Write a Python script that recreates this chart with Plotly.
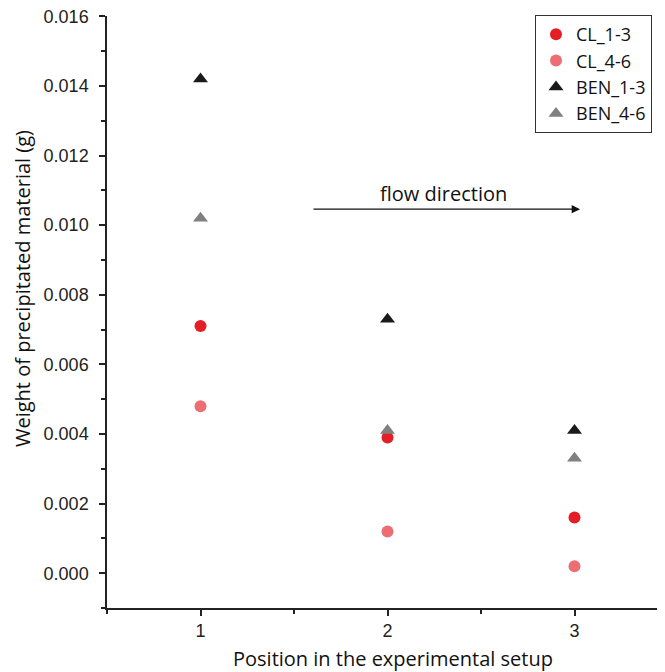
import plotly.graph_objects as go

positions = [1, 2, 3]
cl_1_3 = [0.0071, 0.0039, 0.0016]
cl_4_6 = [0.0048, 0.0012, 0.0002]
ben_1_3 = [0.0142, 0.0073, 0.0041]
ben_4_6 = [0.0102, 0.0041, 0.0033]

series = [
    ("CL_1-3", cl_1_3, "circle", "#e31e24", 12),
    ("CL_4-6", cl_4_6, "circle", "#ec6e73", 12),
    ("BEN_1-3", ben_1_3, "triangle-up", "#1a1a1a", 13),
    ("BEN_4-6", ben_4_6, "triangle-up", "#808080", 13),
]

# page body adds an 8px offset; compensate so plot area lands where reference has it
OFF = 8
W, H = 665 - OFF, 672 - OFF
L, T, B = 107 - OFF, 16 - OFF, 672 - 608
PW = W - L
PH = H - T - B

fig = go.Figure()
for name, vals, sym, col, sz in series:
    fig.add_trace(go.Scatter(
        x=positions, y=vals, mode="markers", name=name,
        marker=dict(symbol=sym, color=col, size=sz, line=dict(width=0)),
    ))

title_font = dict(family="Open Sans, Noto Sans, sans-serif", size=20, color="#111")
tick_font = dict(family="Liberation Sans, Arial, sans-serif", size=18, color="#222")

fig.update_layout(
    width=W, height=H,
    margin=dict(l=L, r=0, t=T, b=B),
    plot_bgcolor="white", paper_bgcolor="white",
    showlegend=True,
    legend=dict(
        x=(535 - 107) / PW, y=1.0 + 1 / PH, xanchor="left", yanchor="top",
        bordercolor="#333", borderwidth=1, bgcolor="white",
        font=dict(family="Open Sans, Noto Sans, sans-serif", size=18, color="#111"),
    ),
    xaxis=dict(
        range=[0.5, 0.5 + (665 - 107) / 187.0], tickvals=[1, 2, 3], ticktext=["1", "2", "3"],
        showgrid=False, zeroline=False, showline=True, linecolor="#222", linewidth=1.5,
        ticks="outside", ticklen=6, tickwidth=1.5, tickcolor="#222",
        minor=dict(tickvals=[0.5, 1.5, 2.5], ticks="outside", ticklen=4, tickwidth=1.5, tickcolor="#222"),
        tickfont=tick_font, ticklabelstandoff=0,
    ),
    yaxis=dict(
        range=[-0.001, 0.01601], tickvals=[0, 0.002, 0.004, 0.006, 0.008, 0.010, 0.012, 0.014, 0.016],
        ticktext=["0.000", "0.002", "0.004", "0.006", "0.008", "0.010", "0.012", "0.014", "0.016"],
        showgrid=False, zeroline=False, showline=True, linecolor="#222", linewidth=1.5,
        ticks="outside", ticklen=6, tickwidth=1.5, tickcolor="#222",
        minor=dict(tickvals=[-0.001, 0.001, 0.003, 0.005, 0.007, 0.009, 0.011, 0.013, 0.015],
                   ticks="outside", ticklen=4, tickwidth=1.5, tickcolor="#222"),
        tickfont=tick_font, ticklabelstandoff=7, ticklabeloverflow="allow",
    ),
)

fig.add_annotation(
    xref="paper", yref="paper", x=(393 - 107) / PW, y=-(658 - 608) / PH,
    text="Position in the experimental setup", showarrow=False,
    xanchor="center", yanchor="middle", font=title_font,
)
fig.add_annotation(
    xref="paper", yref="paper", x=-(107 - 22) / PW, y=(608 - 289) / PH,
    text="Weight of precipitated material (g)", showarrow=False, textangle=-90,
    xanchor="center", yanchor="middle", font=title_font,
)
# flow direction arrow
fig.add_annotation(
    x=3.03, y=0.01046, ax=1.596, ay=0.01046, xref="x", yref="y", axref="x", ayref="y",
    text="", showarrow=True, arrowhead=2, arrowsize=1.4, arrowwidth=1.2, arrowcolor="#111",
)
fig.add_annotation(
    x=2.30, y=0.01091, xref="x", yref="y", text="flow direction", showarrow=False,
    xanchor="center", yanchor="middle", font=title_font,
)

fig.write_html("out.html")
